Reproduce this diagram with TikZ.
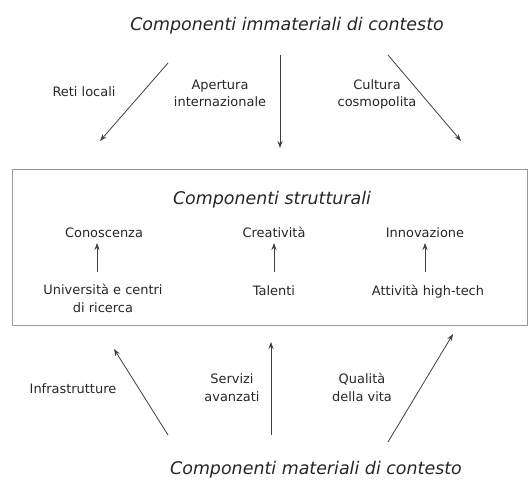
\documentclass[tikz,border=0pt]{standalone}
\usepackage{fontspec}
\setmainfont{DejaVu Sans}
\usetikzlibrary{arrows.meta}
\begin{document}
\begin{tikzpicture}[x=1bp,y=-1bp,
  title/.style={font=\fontsize{17.5}{20}\selectfont\itshape, text=black!85, inner sep=0pt, anchor=base},
  lbl/.style={font=\fontsize{13}{17.5}\selectfont, text=black!85, align=center, inner sep=0pt, anchor=base},
  arr/.style={draw=black!75, line width=0.8bp, -{Stealth[length=7bp,width=5bp]}},
  box/.style={draw=black!40, line width=0.9bp}]
\useasboundingbox (0,0) rectangle (531,483);
% titles
\node[title] (top) at (287,31) {Componenti immateriali di contesto};
\node[title] (bot) at (316,474) {Componenti materiali di contesto};
% box
\draw[box] (12,169) rectangle (527,325);
\node[title] (str) at (272,205) {Componenti strutturali};
% top arrows
\coordinate (t1s) at (168,63); \coordinate (t1e) at (100,141);
\coordinate (t2s) at (280,55); \coordinate (t2e) at (280,148);
\coordinate (t3s) at (388,55); \coordinate (t3e) at (461,141);
\draw[arr] (t1s) -- (t1e);
\draw[arr] (t2s) -- (t2e);
\draw[arr] (t3s) -- (t3e);
\node[lbl] (reti) at (84,97) {Reti locali};
\node[lbl] (aper) at (220,107) {Apertura\\internazionale};
\node[lbl] (cult) at (377,107) {Cultura\\cosmopolita};
% inner
\node[lbl] (cono) at (104,237) {Conoscenza};
\node[lbl] (crea) at (274,237) {Creatività};
\node[lbl] (inno) at (425,237) {Innovazione};
\node[lbl] (univ) at (103,312) {Università e centri\\di ricerca};
\node[lbl] (tale) at (274,295) {Talenti};
\node[lbl] (atti) at (428,295) {Attività high-tech};
\coordinate (a1s) at (97,272); \coordinate (a1e) at (97,243);
\coordinate (a2s) at (274,272); \coordinate (a2e) at (274,243);
\coordinate (a3s) at (425,272); \coordinate (a3e) at (425,243);
\draw[arr] (a1s) -- (a1e);
\draw[arr] (a2s) -- (a2e);
\draw[arr] (a3s) -- (a3e);
% bottom arrows
\coordinate (b1s) at (168,435); \coordinate (b1e) at (114,349);
\coordinate (b2s) at (271,435); \coordinate (b2e) at (271,342);
\coordinate (b3s) at (388,442); \coordinate (b3e) at (453,334);
\draw[arr] (b1s) -- (b1e);
\draw[arr] (b2s) -- (b2e);
\draw[arr] (b3s) -- (b3e);
\node[lbl] (infr) at (73,393) {Infrastrutture};
\node[lbl] (serv) at (232,401) {Servizi\\avanzati};
\node[lbl] (qual) at (362,401) {Qualità\\della vita};
\end{tikzpicture}
\end{document}
